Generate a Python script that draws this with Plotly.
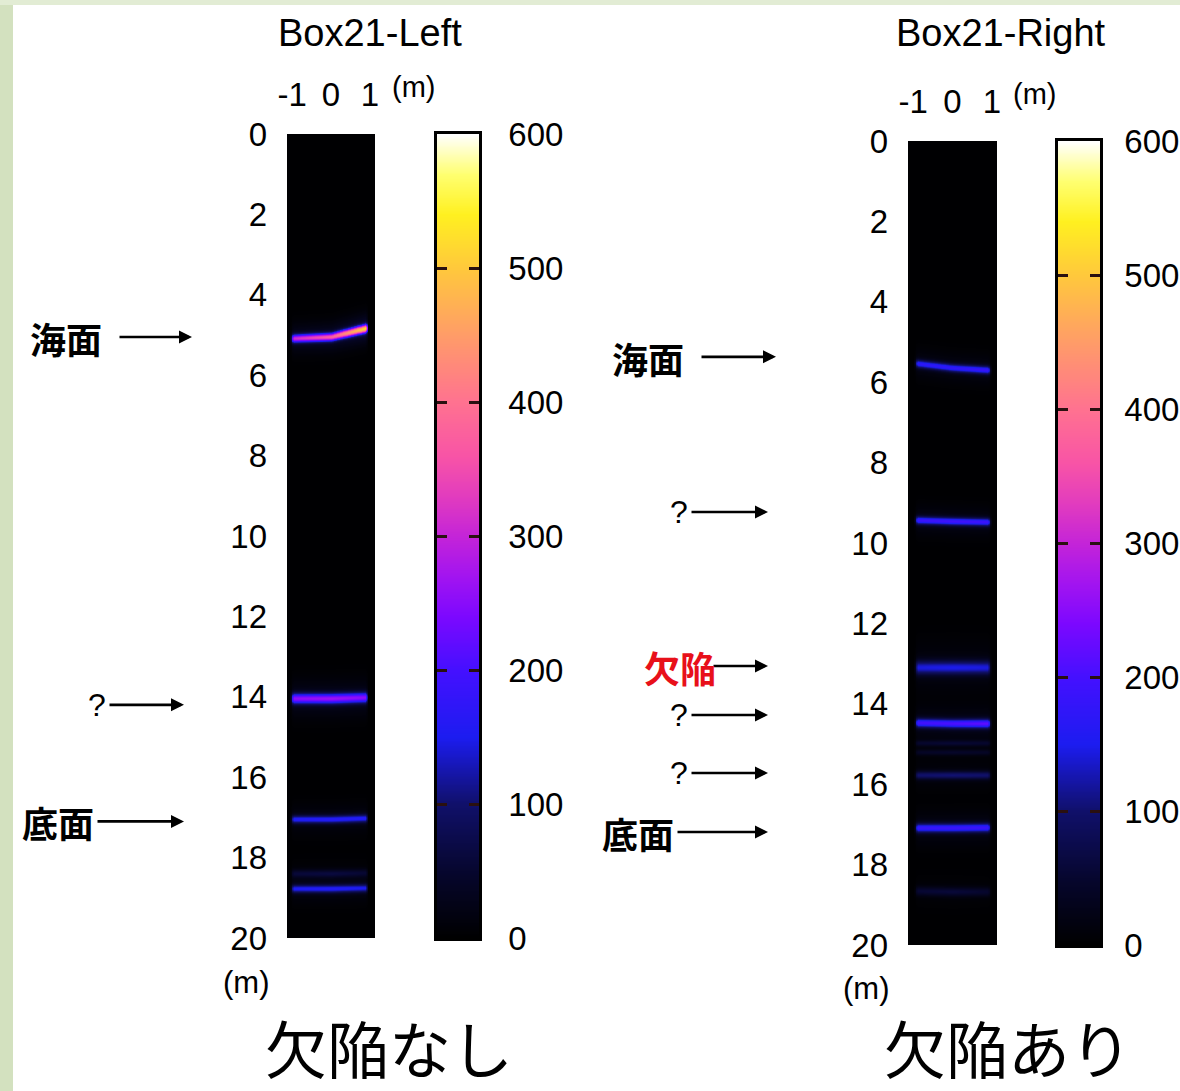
import numpy as np
import plotly.graph_objects as go

W, H = 1180, 1091

# Shared palette for the scans and their colour bars (amplitude 0..600)
palette = [
    [0.000, "#000000"], [0.080, "#06062c"], [0.167, "#10106a"], [0.250, "#1c1cf0"],
    [0.333, "#4410ff"], [0.400, "#7c08ff"], [0.450, "#a214f0"], [0.500, "#c424d8"],
    [0.550, "#e23cbe"], [0.600, "#f854a6"], [0.667, "#ff7290"], [0.750, "#ff9c68"],
    [0.833, "#ffc83c"], [0.900, "#fff020"], [0.950, "#ffff70"], [1.000, "#ffffff"],
]

depth_ticks = list(range(0, 21, 2))
offset_ticks = [-1, 0, 1]
amp_ticks = [0, 100, 200, 300, 400, 500, 600]
amp_max = 600

# Reflectors, left scan: depth (m) and amplitude at offsets -1 / 0 / +1 m, thickness (m)
left_depth_l = [5.08, 14.03, 17.05, 18.38, 18.76]
left_depth_c = [5.04, 14.03, 17.05, 18.38, 18.76]
left_depth_r = [4.80, 14.00, 17.02, 18.36, 18.74]
left_amp_l = [270, 225, 140, 45, 135]
left_amp_c = [330, 235, 145, 50, 140]
left_amp_r = [480, 220, 140, 40, 130]
left_thick = [0.07, 0.09, 0.07, 0.07, 0.07]

# Reflectors, right scan
right_depth_l = [5.52, 9.42, 13.08, 14.46, 14.97, 15.20, 15.77, 17.09, 18.64]
right_depth_c = [5.64, 9.45, 13.08, 14.48, 14.97, 15.20, 15.77, 17.09, 18.66]
right_depth_r = [5.70, 9.47, 13.08, 14.48, 14.97, 15.20, 15.77, 17.08, 18.66]
right_amp_l = [150, 165, 125, 170, 35, 30, 85, 160, 45]
right_amp_c = [155, 170, 130, 180, 40, 35, 90, 165, 50]
right_amp_r = [165, 165, 125, 195, 35, 30, 85, 165, 40]
right_thick = [0.07, 0.07, 0.12, 0.08, 0.05, 0.05, 0.07, 0.08, 0.08]

# Annotated features
left_marks = ["海面", "?", "底面"]
left_mark_depth = [5.05, 14.2, 17.1]
right_marks = ["海面", "?", "欠陥", "?", "?", "底面"]
right_mark_depth = [5.37, 9.23, 13.06, 14.28, 15.72, 17.19]

xs = np.linspace(-1.2, 1.2, 61)
ds = np.arange(-0.2, 20.21, 0.025)


def scan(dl, dc, dr, al, ac, ar, th, x0, x1):
    X, D = np.meshgrid(xs, ds)
    z = np.full(X.shape, 2.0)
    edge = np.clip((X - x0) / 0.08, 0, 1) * np.clip((x1 - X) / 0.08, 0, 1)
    for i in range(len(dl)):
        d = np.interp(xs, [-1, 0, 1], [dl[i], dc[i], dr[i]])[None, :]
        a = np.interp(xs, [-1, 0, 1], [al[i], ac[i], ar[i]])[None, :]
        core = np.exp(-0.5 * ((D - d) / th[i]) ** 2)
        halo = 0.12 * np.exp(-0.5 * ((D - d) / (th[i] * 3.5)) ** 2)
        z += a * edge * (core + halo)
    return np.round(np.clip(z, 0, amp_max), 1)


z_left = scan(left_depth_l, left_depth_c, left_depth_r, left_amp_l, left_amp_c,
              left_amp_r, left_thick, -1.06, 0.96)
z_right = scan(right_depth_l, right_depth_c, right_depth_r, right_amp_l, right_amp_c,
               right_amp_r, right_thick, -0.98, 0.98)

levels = np.linspace(0, amp_max, 301)
z_bar = np.repeat(levels[:, None], 2, axis=1)

FONT = "Liberation Sans, Arial, sans-serif"
CJK = "Noto Sans CJK JP, sans-serif"

fig = go.Figure()
fig.add_trace(go.Heatmap(x=xs, y=ds, z=z_left, colorscale=palette, zmin=0, zmax=amp_max,
                         zsmooth="best", showscale=False, xaxis="x", yaxis="y"))
fig.add_trace(go.Heatmap(x=[0, 1], y=levels, z=z_bar, colorscale=palette, zmin=0, zmax=amp_max,
                         zsmooth="best", showscale=False, xaxis="x2", yaxis="y2"))
fig.add_trace(go.Heatmap(x=xs, y=ds, z=z_right, colorscale=palette, zmin=0, zmax=amp_max,
                         zsmooth="best", showscale=False, xaxis="x3", yaxis="y3"))
fig.add_trace(go.Heatmap(x=[0, 1], y=levels, z=z_bar, colorscale=palette, zmin=0, zmax=amp_max,
                         zsmooth="best", showscale=False, xaxis="x4", yaxis="y4"))


def px(x):
    return x / W


def py(y):
    return 1 - y / H


def scan_axes(x0, x1, y0, y1, xa, ya):
    xax = dict(domain=[px(x0), px(x1)], range=[-1.13, 1.13], side="top", tickvals=offset_ticks,
               ticktext=[str(v) for v in offset_ticks], ticks="", showgrid=False, zeroline=False,
               showline=False, tickfont=dict(size=33, family=FONT, color="black"),
               ticklabelstandoff=20, anchor=ya, fixedrange=True, automargin=False)
    yax = dict(domain=[py(y1), py(y0)], range=[20, 0], tickvals=depth_ticks, ticks="",
               showgrid=False, zeroline=False, showline=False,
               tickfont=dict(size=33, family=FONT, color="black"),
               ticklabelstandoff=19, anchor=xa, fixedrange=True, automargin=False)
    return xax, yax


def bar_axes(x0, x1, y0, y1, xa, ya, standoff):
    xax = dict(domain=[px(x0), px(x1)], range=[0, 1], showticklabels=False, ticks="",
               showgrid=False, zeroline=False, showline=True, mirror=True, linecolor="black",
               linewidth=2.5, anchor=ya, fixedrange=True, automargin=False)
    yax = dict(domain=[py(y1), py(y0)], range=[0, amp_max], side="right", tickvals=amp_ticks,
               ticks="inside", ticklen=10, tickwidth=2.5, tickcolor="#2a1010", mirror="ticks",
               showgrid=False, zeroline=False, showline=True, linecolor="black", linewidth=2.5,
               tickfont=dict(size=33, family=FONT, color="black"), ticklabelstandoff=standoff,
               anchor=xa, fixedrange=True, automargin=False)
    return xax, yax


xa1, ya1 = scan_axes(287, 375, 134, 938, "x", "y")
xa2, ya2 = bar_axes(437, 479, 134, 938, "x2", "y2", 20)
xa3, ya3 = scan_axes(908, 997, 141, 945, "x3", "y3")
xa4, ya4 = bar_axes(1058, 1100, 141, 945, "x4", "y4", 15)

ann = []


def label(text, x, y, size, color="black", family=FONT, weight="normal"):
    ann.append(dict(text=text, x=px(x), y=py(y), xref="paper", yref="paper", showarrow=False,
                    xanchor="center", yanchor="middle",
                    font=dict(size=size, family=family, color=color, weight=weight)))


label("Box21-Left", 370, 33, 38)
label("Box21-Right", 1001, 33, 38)
label("(m)", 413, 87, 29)
label("(m)", 1034, 94, 29)
label("(m)", 246, 982, 31)
label("(m)", 866, 988, 31)
label("欠陥なし", 389, 1047, 62, family=CJK)
label("欠陥あり", 1008, 1047, 62, family=CJK)


def marker(text, depth, yref, text_right, tail, head, color="black"):
    ann.append(dict(text="", showarrow=True, x=px(head), xref="paper", y=depth, yref=yref,
                    ax=tail - head, ay=0, axref="pixel", ayref="pixel", arrowhead=2,
                    arrowsize=1.0, arrowwidth=2.6, arrowcolor="black"))
    is_q = text == "?"
    ann.append(dict(text=text, showarrow=False, x=px(text_right), xref="paper", y=depth,
                    yref=yref, xanchor="right", yanchor="middle", yshift=0 if is_q else -1,
                    font=dict(size=32 if is_q else 36, family=FONT if is_q else CJK,
                              color=color, weight="normal" if is_q else "bold")))


left_layout = [(104, 118, 192), (108, 108, 184), (96, 96, 184)]
for t, d, (tr, tl, hd) in zip(left_marks, left_mark_depth, left_layout):
    marker(t, d, "y", tr, tl, hd)

right_layout = [(686, 700, 776), (690, 690, 768), (718, 712, 768),
                (690, 690, 768), (690, 690, 768), (676, 676, 768)]
for t, d, (tr, tl, hd) in zip(right_marks, right_mark_depth, right_layout):
    marker(t, d, "y3", tr, tl, hd, color="#e8101a" if t == "欠陥" else "black")

shapes = [
    dict(type="rect", xref="paper", yref="paper", x0=0, x1=px(13), y0=0, y1=1,
         fillcolor="#d3e1bf", line=dict(width=0), layer="above"),
    dict(type="rect", xref="paper", yref="paper", x0=0, x1=1, y0=py(5), y1=1,
         fillcolor="#e2ecd4", line=dict(width=0), layer="above"),
]

fig.update_layout(
    width=W, height=H, margin=dict(l=0, r=0, t=0, b=0, autoexpand=False),
    paper_bgcolor="white", plot_bgcolor="white", showlegend=False,
    xaxis=xa1, yaxis=ya1, xaxis2=xa2, yaxis2=ya2, xaxis3=xa3, yaxis3=ya3,
    xaxis4=xa4, yaxis4=ya4, annotations=ann, shapes=shapes,
    font=dict(family=FONT, color="black"),
)

fig.write_html("out.html", config={"displayModeBar": False})
